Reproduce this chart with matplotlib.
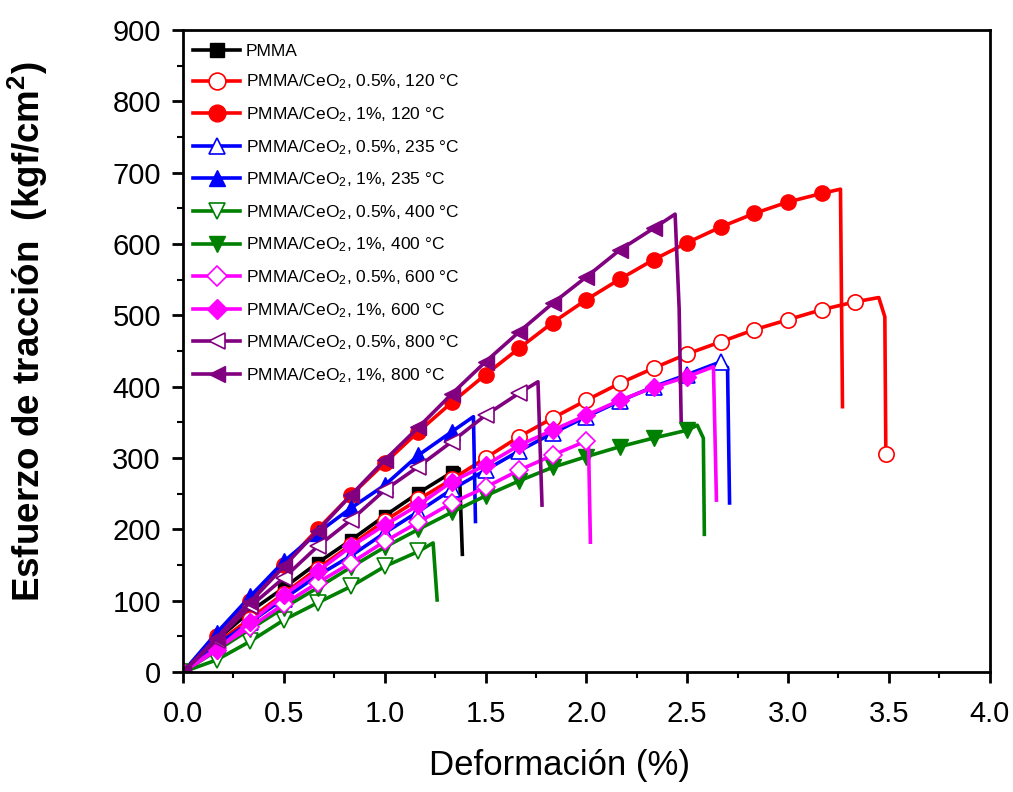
import matplotlib
matplotlib.use("Agg")
import matplotlib.pyplot as plt
from matplotlib.ticker import MultipleLocator

plt.rcParams["font.family"] = ["Liberation Sans", "DejaVu Sans"]
plt.rcParams["mathtext.fontset"] = "custom"
plt.rcParams["mathtext.rm"] = "Liberation Sans"
plt.rcParams["mathtext.it"] = "Liberation Sans:italic"
plt.rcParams["mathtext.bf"] = "Liberation Sans:bold"

# Strain positions of the plotted symbols (%)
strain = [0.0, 0.167, 0.333, 0.5, 0.667, 0.833, 1.0, 1.167, 1.333, 1.5,
          1.667, 1.833, 2.0, 2.167, 2.333, 2.5, 2.667, 2.833, 3.0, 3.167, 3.333]

# Tensile stress (kgf/cm2) at the strain positions above
pmma = [0, 45, 85, 118, 153, 185, 219, 251, 280]
ceo2_05_120 = [0, 40, 75, 110, 145, 178, 212, 242, 270, 300, 330, 356, 381,
               405, 426, 446, 463, 480, 494, 508, 519]
ceo2_1_120 = [0, 50, 100, 150, 200, 248, 293, 337, 378, 417, 454, 490, 522,
              551, 578, 602, 624, 643, 659, 671]
ceo2_05_235 = [0, 38, 70, 103, 135, 163, 195, 225, 256, 283, 310, 335, 358,
               380, 400, 417, 435]
ceo2_1_235 = [0, 55, 106, 155, 195, 230, 262, 304, 337]
ceo2_05_400 = [0, 17, 43, 73, 97, 120, 148, 169]
ceo2_1_400 = [0, 30, 60, 90, 118, 147, 175, 200, 224, 247, 268, 287, 302,
              316, 328, 339]
ceo2_05_600 = [0, 33, 63, 95, 125, 153, 183, 210, 237, 259, 283, 304, 324]
ceo2_1_600 = [0, 31, 70, 108, 141, 176, 206, 234, 267, 290, 318, 339, 360,
              381, 399, 414]
ceo2_05_800 = [0, 45, 92, 132, 176, 213, 255, 288, 323, 360, 391]
ceo2_1_800 = [0, 48, 98, 148, 198, 248, 297, 343, 390, 435, 477, 517, 554,
              592, 622]

# Peak and rupture segment of each curve: (strain, stress)
pmma_end = [(1.37, 285), (1.385, 165)]
ceo2_05_120_end = [(3.45, 525), (3.48, 498), (3.485, 306)]
ceo2_1_120_end = [(3.26, 677), (3.27, 372)]
ceo2_05_235_end = [(2.70, 427), (2.71, 237)]
ceo2_1_235_end = [(1.44, 358), (1.45, 211)]
ceo2_05_400_end = [(1.24, 181), (1.26, 101)]
ceo2_1_400_end = [(2.55, 346), (2.58, 328), (2.585, 193)]
ceo2_05_600_end = [(2.01, 330), (2.02, 182)]
ceo2_1_600_end = [(2.63, 428), (2.645, 241)]
ceo2_05_800_end = [(1.76, 407), (1.78, 234)]
ceo2_1_800_end = [(2.44, 642), (2.46, 510), (2.47, 353)]

labels = [
    "PMMA",
    "PMMA/CeO$_2$, 0.5%, 120 °C",
    "PMMA/CeO$_2$, 1%, 120 °C",
    "PMMA/CeO$_2$, 0.5%, 235 °C",
    "PMMA/CeO$_2$, 1%, 235 °C",
    "PMMA/CeO$_2$, 0.5%, 400 °C",
    "PMMA/CeO$_2$, 1%, 400 °C",
    "PMMA/CeO$_2$, 0.5%, 600 °C",
    "PMMA/CeO$_2$, 1%, 600 °C",
    "PMMA/CeO$_2$, 0.5%, 800 °C",
    "PMMA/CeO$_2$, 1%, 800 °C",
]
series = [
    (pmma, pmma_end, "black", "s", True, 9),
    (ceo2_05_120, ceo2_05_120_end, "#FF0000", "o", False, 11),
    (ceo2_1_120, ceo2_1_120_end, "#FF0000", "o", True, 11),
    (ceo2_05_235, ceo2_05_235_end, "#0000FF", "^", False, 11),
    (ceo2_1_235, ceo2_1_235_end, "#0000FF", "^", True, 11),
    (ceo2_05_400, ceo2_05_400_end, "#008000", "v", False, 11),
    (ceo2_1_400, ceo2_1_400_end, "#008000", "v", True, 11),
    (ceo2_05_600, ceo2_05_600_end, "#FF00FF", "D", False, 9),
    (ceo2_1_600, ceo2_1_600_end, "#FF00FF", "D", True, 9),
    (ceo2_05_800, ceo2_05_800_end, "#800080", "<", False, 11),
    (ceo2_1_800, ceo2_1_800_end, "#800080", "<", True, 11),
]

fig = plt.figure(figsize=(10.13, 7.92), dpi=100)
ax = fig.add_axes([0.1807, 0.1515, 0.7963, 0.8105])

for (stress, end, color, marker, filled, ms), label in zip(series, labels):
    n = len(stress)
    xs = strain[:n] + [p[0] for p in end]
    ys = stress + [p[1] for p in end]
    marks = list(range(n))
    if label == labels[1]:
        marks.append(len(xs) - 1)
    ax.plot(xs, ys, color=color, lw=2.6, marker=marker, ms=ms,
            markevery=marks,
            mfc=color if filled else "white", mec=color,
            mew=1.0 if filled else 1.2, label=label)

ax.set_xlim(0, 4.0)
ax.set_ylim(0, 900)
ax.xaxis.set_major_locator(MultipleLocator(0.5))
ax.xaxis.set_minor_locator(MultipleLocator(0.25))
ax.yaxis.set_major_locator(MultipleLocator(100))
ax.yaxis.set_minor_locator(MultipleLocator(50))
ax.set_xticklabels([f"{v:.1f}" for v in ax.get_xticks()])

for sp in ax.spines.values():
    sp.set_linewidth(2.0)
ax.tick_params(which="major", direction="out", length=8, width=2.0,
               labelsize=21)
ax.tick_params(axis="x", which="major", pad=12)
ax.tick_params(axis="y", which="major", pad=8)
ax.tick_params(which="minor", direction="out", length=4, width=1.5)

ax.set_xlabel("Deformación (%)", fontsize=25)
ax.xaxis.set_label_coords(0.467, -0.12)
ax.set_ylabel("Esfuerzo de tracción  (kgf/cm$^{\\mathbf{2}}$)", fontsize=26.5,
              fontweight="bold")
ax.yaxis.set_label_coords(-0.165, 0.53)

ax.legend(loc="upper left", bbox_to_anchor=(0.0, 0.995), frameon=False,
          fontsize=12.5, numpoints=1, handlelength=2.7, handletextpad=0.3,
          labelspacing=0.8, borderaxespad=0.2, markerscale=1.1)

fig.savefig("out.png", dpi=100)
